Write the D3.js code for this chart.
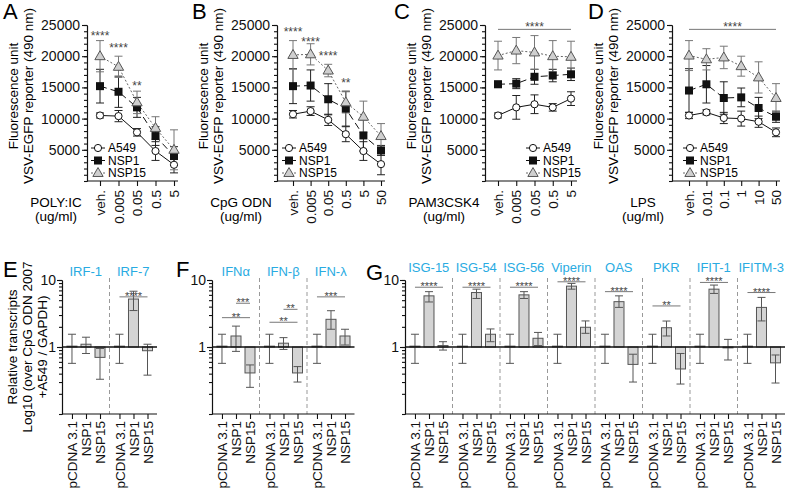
<!DOCTYPE html>
<html>
<head>
<meta charset="utf-8">
<script src="https://cdn.jsdelivr.net/npm/d3@7"></script>
<style>
  body { margin: 0; background: #fff; }
  svg { font-family: "Liberation Sans", Arial, sans-serif; }
</style>
</head>
<body>
<script>
// ---- top row: VSV-EGFP reporter vs. ligand dose ----
var seriesNames = ['A549', 'NSP1', 'NSP15'];

var polyDoses = ['veh.', '0.005', '0.05', '0.5', '5'];
var polyA549 = [10500, 10400, 7800, 4800, 2600];
var polyA549Err = [400, 900, 600, 1500, 1300];
var polyNsp1 = [15200, 14300, 11800, 7200, 4000];
var polyNsp1Err = [2700, 2500, 1600, 1500, 1500];
var polyNsp15 = [20000, 18300, 12600, 8500, 5000];
var polyNsp15Err = [2500, 1700, 1800, 1800, 3200];
var polyStars = [['veh.', 23700, '****'], ['0.005', 21800, '****'], ['0.05', 15700, '**']];

var cpgDoses = ['veh.', '0.005', '0.05', '0.5', '5', '50'];
var cpgA549 = [10700, 11200, 9800, 7500, 4800, 2700];
var cpgA549Err = [600, 700, 900, 1200, 1500, 1700];
var cpgNsp1 = [15200, 15300, 13100, 11600, 7300, 4900];
var cpgNsp1Err = [2800, 2500, 2500, 2800, 2500, 800];
var cpgNsp15 = [20200, 20300, 17700, 12600, 10300, 7200];
var cpgNsp15Err = [2300, 1700, 1000, 1700, 2500, 2000];
var cpgStars = [['veh.', 24300, '****'], ['0.005', 22700, '****'], ['0.05', 20500, '****'], ['0.5', 16200, '**']];

var pamDoses = ['veh.', '0.005', '0.05', '0.5', '5'];
var pamA549 = [10500, 11800, 12300, 11800, 13200];
var pamA549Err = [400, 1900, 1500, 600, 1100];
var pamNsp1 = [15500, 15600, 16700, 16900, 17100];
var pamNsp1Err = [500, 800, 1200, 1000, 1000];
var pamNsp15 = [20100, 20900, 20600, 20000, 19900];
var pamNsp15Err = [2300, 2100, 2700, 2500, 2500];

var lpsDoses = ['veh.', '0.01', '0.1', '1', '10', '50'];
var lpsA549 = [10500, 11000, 10100, 10000, 9500, 7800];
var lpsA549Err = [500, 400, 900, 1200, 900, 700];
var lpsNsp1 = [14500, 15500, 13300, 13400, 11700, 10300];
var lpsNsp1Err = [3500, 3000, 2600, 1500, 1700, 900];
var lpsNsp15 = [20100, 19500, 19800, 18400, 16600, 13300];
var lpsNsp15Err = [2400, 1700, 1800, 1600, 2500, 2300];

var yTicks = [5000, 10000, 15000, 20000, 25000];

// ---- bottom row: relative transcripts (log axis) ----
var barNames = ['pCDNA 3.1', 'NSP1', 'NSP15'];

var eGenes = ['IRF-1', 'IRF-7'];
var eMean = [[1.03, 1.1, 0.7], [1.03, 5.2, 0.88]];
var eLow = [[0.57, 0.8, 0.33], [0.57, 3.5, 0.38]];
var eHigh = [[1.55, 1.4, 0.95], [1.55, 6.8, 1.1]];
var eSig = [['IRF-7', 'pCDNA 3.1', 'NSP15', 5.6, '****']];

var fGenes = ['IFNα', 'IFN-β', 'IFN-λ'];
var fMean = [[1.03, 1.46, 0.41], [1.03, 1.14, 0.41], [1.03, 2.59, 1.46]];
var fLow = [[0.57, 0.86, 0.25], [0.57, 0.92, 0.30], [0.57, 1.84, 1.07]];
var fHigh = [[1.55, 2.05, 0.54], [1.55, 1.38, 0.51], [1.55, 3.48, 1.84]];
var fSig = [
  ['IFNα', 'pCDNA 3.1', 'NSP15', 2.74, '**'],
  ['IFNα', 'NSP1', 'NSP15', 4.5, '***'],
  ['IFN-β', 'pCDNA 3.1', 'NSP15', 2.34, '**'],
  ['IFN-β', 'NSP1', 'NSP15', 3.65, '**'],
  ['IFN-λ', 'pCDNA 3.1', 'NSP15', 5.6, '***']
];

var gGenes = ['ISG-15', 'ISG-54', 'ISG-56', 'Viperin', 'OAS', 'PKR', 'IFIT-1', 'IFITM-3'];
var gMean = [[1.03, 5.8, 1.05], [1.03, 6.5, 1.55], [1.03, 6.0, 1.35], [1.03, 8.1, 1.97],
             [1.03, 4.75, 0.55], [1.03, 1.94, 0.47], [1.03, 7.3, 0.97], [1.03, 3.9, 0.58]];
var gLow = [[0.57, 4.7, 0.9], [0.57, 5.3, 1.2], [0.57, 5.3, 1.05], [0.57, 7.3, 1.6],
            [0.57, 3.9, 0.3], [0.57, 1.46, 0.28], [0.57, 6.3, 0.64], [0.57, 2.45, 0.29]];
var gHigh = [[1.55, 6.7, 1.2], [1.55, 7.3, 1.86], [1.55, 6.7, 1.65], [1.55, 8.9, 2.45],
             [1.55, 5.8, 0.78], [1.55, 2.44, 0.8], [1.55, 8.4, 1.3], [1.55, 5.5, 0.76]];
var gSig = [
  ['ISG-15', 'pCDNA 3.1', 'NSP15', 7.8, '****'],
  ['ISG-54', 'pCDNA 3.1', 'NSP15', 7.8, '****'],
  ['ISG-56', 'pCDNA 3.1', 'NSP15', 7.8, '****'],
  ['Viperin', 'pCDNA 3.1', 'NSP15', 9.4, '****'],
  ['OAS', 'pCDNA 3.1', 'NSP15', 6.7, '****'],
  ['PKR', 'pCDNA 3.1', 'NSP15', 4.1, '**'],
  ['IFIT-1', 'pCDNA 3.1', 'NSP15', 9.2, '****'],
  ['IFITM-3', 'pCDNA 3.1', 'NSP15', 6.5, '****']
];

var svg = d3.select('body').append('svg').attr('width', 789).attr('height', 490);

var seriesStyle = [
  { stroke: '#111', dash: null, err: '#222' },
  { stroke: '#111', dash: '7,4', err: '#222' },
  { stroke: '#666', dash: '2,2', err: '#777' }
];

function drawMarker(sel, s, cx, cy) {
  if (s === 0) {
    sel.append('circle').attr('cx', cx).attr('cy', cy).attr('r', 3.6)
      .style('fill', '#fff').style('stroke', '#111').style('stroke-width', 1);
  } else if (s === 1) {
    sel.append('rect').attr('x', cx - 4).attr('y', cy - 4).attr('width', 8).attr('height', 8)
      .style('fill', '#111');
  } else {
    sel.append('path').attr('d', d3.symbol(d3.symbolTriangle).size(46)())
      .attr('transform', 'translate(' + cx + ',' + (cy + 0.5) + ')')
      .style('fill', '#cfcfcf').style('stroke', '#555').style('stroke-width', 1);
  }
}

function styleAxis(ax) {
  ax.selectAll('path, line').style('stroke', '#111').style('stroke-width', 1.1);
  ax.selectAll('text').style('fill', '#111');
}

function drawTopPanel(p) {
  var g = svg.append('g');
  var x = d3.scalePoint().domain(p.doses).range([p.first, p.last]);
  var y = d3.scaleLinear().domain([0, 25000]).range([181, 25]);

  // panel letter
  g.append('text').attr('x', p.letterX).attr('y', 19).text(p.letter)
    .style('font-size', '22px');

  // y axis: minor + major ticks
  var minor = g.append('g').attr('transform', 'translate(' + p.axisX + ',0)')
    .call(d3.axisLeft(y).tickValues(d3.range(0, 25001, 1000)).tickSize(3).tickSizeOuter(0).tickFormat(''));
  styleAxis(minor);
  var major = g.append('g').attr('transform', 'translate(' + p.axisX + ',0)')
    .call(d3.axisLeft(y).tickValues(yTicks).tickSize(5).tickSizeOuter(0).tickFormat(d3.format('d')));
  major.selectAll('text').style('font-size', '14px').attr('x', -7);
  styleAxis(major);

  // x axis
  var xa = g.append('g').attr('transform', 'translate(0,181)')
    .call(d3.axisBottom(x).tickSize(5).tickSizeOuter(0));
  xa.select('.domain').remove();
  xa.selectAll('text')
    .attr('transform', 'rotate(-90)')
    .attr('x', -9).attr('y', 0).attr('dy', '0.35em')
    .style('text-anchor', 'end').style('font-size', '13.5px');
  styleAxis(xa);
  g.append('line').attr('x1', p.axisX).attr('x2', p.axisEnd).attr('y1', 181).attr('y2', 181)
    .style('stroke', '#111').style('stroke-width', 1.1);

  // axis titles
  var yt = ['Fluorescence unit', 'VSV-EGFP reporter (490 nm)'];
  yt.forEach(function (t, i) {
    g.append('text')
      .attr('transform', 'translate(' + (p.axisX - 74 + i * 15) + ',96) rotate(-90)')
      .attr('dy', '0.35em').style('text-anchor', 'middle').style('font-size', '13.5px')
      .text(t);
  });
  g.append('text').attr('x', p.xTitleX).attr('y', 207).style('text-anchor', 'middle')
    .style('font-size', '13.5px').text(p.xTitle);
  g.append('text').attr('x', p.xTitleX).attr('y', 221).style('text-anchor', 'middle')
    .style('font-size', '13.5px').text('(ug/ml)');

  // series
  p.means.forEach(function (vals, s) {
    var rows = p.doses.map(function (d, i) { return { d: d, v: vals[i], e: p.errs[s][i] }; });
    var st = seriesStyle[s];
    var line = d3.line().x(function (r) { return x(r.d); }).y(function (r) { return y(r.v); });
    g.append('path').datum(rows).attr('d', line)
      .style('fill', 'none').style('stroke', st.stroke).style('stroke-width', 1)
      .style('stroke-dasharray', st.dash);
    var eb = g.append('g').selectAll('g').data(rows).enter().append('g');
    eb.append('line')
      .attr('x1', function (r) { return x(r.d); }).attr('x2', function (r) { return x(r.d); })
      .attr('y1', function (r) { return y(r.v - r.e); }).attr('y2', function (r) { return y(r.v + r.e); });
    eb.append('line')
      .attr('x1', function (r) { return x(r.d) - 4; }).attr('x2', function (r) { return x(r.d) + 4; })
      .attr('y1', function (r) { return y(r.v + r.e); }).attr('y2', function (r) { return y(r.v + r.e); });
    eb.append('line')
      .attr('x1', function (r) { return x(r.d) - 4; }).attr('x2', function (r) { return x(r.d) + 4; })
      .attr('y1', function (r) { return y(r.v - r.e); }).attr('y2', function (r) { return y(r.v - r.e); });
    eb.selectAll('line').style('stroke', st.err).style('stroke-width', 1);
  });
  p.means.forEach(function (vals, s) {
    var mg = g.append('g');
    p.doses.forEach(function (d, i) { drawMarker(mg, s, x(d), y(vals[i])); });
  });

  // legend
  seriesNames.forEach(function (name, s) {
    var ly = 148 + s * 12.5;
    var st = seriesStyle[s];
    g.append('line').attr('x1', p.legendX - 7).attr('x2', p.legendX + 7).attr('y1', ly).attr('y2', ly)
      .style('stroke', st.stroke).style('stroke-dasharray', st.dash);
    drawMarker(g, s, p.legendX, ly);
    g.append('text').attr('x', p.legendX + 10).attr('y', ly).attr('dy', '0.35em')
      .style('font-size', '12px').text(name);
  });

  // significance
  if (p.stars) {
    p.stars.forEach(function (st) {
      g.append('text').attr('x', x(st[0])).attr('y', y(st[1]) + 7)
        .style('text-anchor', 'middle').style('font-size', '12px').style('fill', '#444')
        .text(st[2]);
    });
  }
  if (p.bracket) {
    var by = y(p.bracket);
    g.append('line').attr('x1', x(p.doses[0])).attr('x2', x(p.doses[p.doses.length - 1]))
      .attr('y1', by).attr('y2', by).style('stroke', '#777').style('stroke-width', 1);
    g.append('text').attr('x', (x(p.doses[0]) + x(p.doses[p.doses.length - 1])) / 2).attr('y', by + 2)
      .style('text-anchor', 'middle').style('font-size', '12px').style('fill', '#444').text('****');
  }
}

drawTopPanel({ letter: 'A', letterX: 3, axisX: 87, axisEnd: 178, first: 100, last: 174,
  doses: polyDoses, means: [polyA549, polyNsp1, polyNsp15], errs: [polyA549Err, polyNsp1Err, polyNsp15Err],
  xTitle: 'POLY:IC', xTitleX: 56, legendX: 98, stars: polyStars });
drawTopPanel({ letter: 'B', letterX: 192, axisX: 277, axisEnd: 385, first: 293, last: 381,
  doses: cpgDoses, means: [cpgA549, cpgNsp1, cpgNsp15], errs: [cpgA549Err, cpgNsp1Err, cpgNsp15Err],
  xTitle: 'CpG ODN', xTitleX: 241, legendX: 289, stars: cpgStars });
drawTopPanel({ letter: 'C', letterX: 394, axisX: 485, axisEnd: 577, first: 498, last: 571,
  doses: pamDoses, means: [pamA549, pamNsp1, pamNsp15], errs: [pamA549Err, pamNsp1Err, pamNsp15Err],
  xTitle: 'PAM3CSK4', xTitleX: 444, legendX: 533, bracket: 24300 });
drawTopPanel({ letter: 'D', letterX: 588, axisX: 672, axisEnd: 780, first: 689, last: 776,
  doses: lpsDoses, means: [lpsA549, lpsNsp1, lpsNsp15], errs: [lpsA549Err, lpsNsp1Err, lpsNsp15Err],
  xTitle: 'LPS', xTitleX: 643, legendX: 690, bracket: 24300 });

// ---- bar panels ----
var groupW = 47.5;

function drawBarPanel(p) {
  var g = svg.append('g');
  var y = d3.scaleLog().domain([0.1, 10]).range([414, 280]);
  var gx = d3.scaleBand().domain(p.genes).range([p.axisX, p.axisX + p.genes.length * groupW]);
  var bx = d3.scalePoint().domain(barNames).range([0.21 * groupW, 0.8 * groupW]);
  var xEnd = p.axisX + p.genes.length * groupW;

  g.append('text').attr('x', p.letterX).attr('y', p.letterY).text(p.letter)
    .style('font-size', '22px');

  // dividers
  p.genes.forEach(function (gene, i) {
    if (i === 0) return;
    g.append('line').attr('x1', gx(gene)).attr('x2', gx(gene)).attr('y1', 278).attr('y2', 414)
      .style('stroke', '#999').style('stroke-width', 1).style('stroke-dasharray', '4,3');
  });

  // y axis
  var minor = g.append('g').attr('transform', 'translate(' + p.axisX + ',0)')
    .call(d3.axisLeft(y).tickValues(y.ticks()).tickSize(3).tickSizeOuter(0).tickFormat(''));
  styleAxis(minor);
  var major = g.append('g').attr('transform', 'translate(' + p.axisX + ',0)')
    .call(d3.axisLeft(y).tickValues([1, 10]).tickSize(5).tickSizeOuter(0).tickFormat(d3.format('d')));
  major.selectAll('text').style('font-size', '14px').attr('x', -6);
  styleAxis(major);

  // x axis per gene
  p.genes.forEach(function (gene) {
    var xa = g.append('g').attr('transform', 'translate(' + gx(gene) + ',414)')
      .call(d3.axisBottom(bx).tickSize(5).tickSizeOuter(0));
    xa.select('.domain').remove();
    xa.selectAll('text')
      .attr('transform', 'rotate(-90)')
      .attr('x', -7).attr('y', 0).attr('dy', '0.35em')
      .style('text-anchor', 'end').style('font-size', '13.5px');
    styleAxis(xa);
  });
  g.append('line').attr('x1', p.axisX).attr('x2', xEnd).attr('y1', 414).attr('y2', 414)
    .style('stroke', '#111').style('stroke-width', 1.1);

  // gene labels
  p.genes.forEach(function (gene) {
    g.append('text').attr('x', gx(gene) + groupW / 2).attr('y', p.labelY)
      .style('text-anchor', 'middle').style('font-size', '13px').style('fill', '#29abe2')
      .text(gene);
  });

  // bars + error bars
  p.genes.forEach(function (gene, gi) {
    barNames.forEach(function (b, bi) {
      var cx = gx(gene) + bx(b);
      var v = p.mean[gi][bi];
      var lo = p.low[gi][bi];
      var hi = p.high[gi][bi];
      g.append('rect').attr('x', cx - 5).attr('width', 10)
        .attr('y', Math.min(y(v), y(1))).attr('height', Math.abs(y(v) - y(1)))
        .style('fill', '#d4d4d4').style('stroke', '#555').style('stroke-width', 1);
      var eg = g.append('g');
      eg.append('line').attr('x1', cx).attr('x2', cx).attr('y1', y(lo)).attr('y2', y(hi));
      eg.append('line').attr('x1', cx - 4).attr('x2', cx + 4).attr('y1', y(lo)).attr('y2', y(lo));
      eg.append('line').attr('x1', cx - 4).attr('x2', cx + 4).attr('y1', y(hi)).attr('y2', y(hi));
      eg.selectAll('line').style('stroke', '#555').style('stroke-width', 1);
    });
  });

  // baseline at 1
  g.append('line').attr('x1', p.axisX).attr('x2', xEnd).attr('y1', y(1)).attr('y2', y(1))
    .style('stroke', '#111').style('stroke-width', 1.3);

  // significance
  p.sig.forEach(function (s) {
    var x1 = gx(s[0]) + bx(s[1]);
    var x2 = gx(s[0]) + bx(s[2]);
    var sy = y(s[3]);
    g.append('line').attr('x1', x1).attr('x2', x2).attr('y1', sy).attr('y2', sy)
      .style('stroke', '#777').style('stroke-width', 1);
    g.append('text').attr('x', (x1 + x2) / 2).attr('y', sy + 3)
      .style('text-anchor', 'middle').style('font-size', '11px').style('fill', '#444')
      .text(s[4]);
  });

  if (p.yTitle) {
    p.yTitle.forEach(function (t, i) {
      g.append('text')
        .attr('transform', 'translate(' + (12 + i * 15) + ',347) rotate(-90)')
        .attr('dy', '0.35em').style('text-anchor', 'middle').style('font-size', '13.5px')
        .text(t);
    });
  }
}

drawBarPanel({ letter: 'E', letterX: 3, letterY: 277, axisX: 62, labelY: 276,
  genes: eGenes, mean: eMean, low: eLow, high: eHigh, sig: eSig,
  yTitle: ['Relative transcripts', 'Log10 (over CpG ODN 2007', '+A549 / GAPDH)'] });
drawBarPanel({ letter: 'F', letterX: 176, letterY: 277, axisX: 212, labelY: 276,
  genes: fGenes, mean: fMean, low: fLow, high: fHigh, sig: fSig });
drawBarPanel({ letter: 'G', letterX: 366, letterY: 280, axisX: 405, labelY: 272,
  genes: gGenes, mean: gMean, low: gLow, high: gHigh, sig: gSig });
</script>
</body>
</html>
